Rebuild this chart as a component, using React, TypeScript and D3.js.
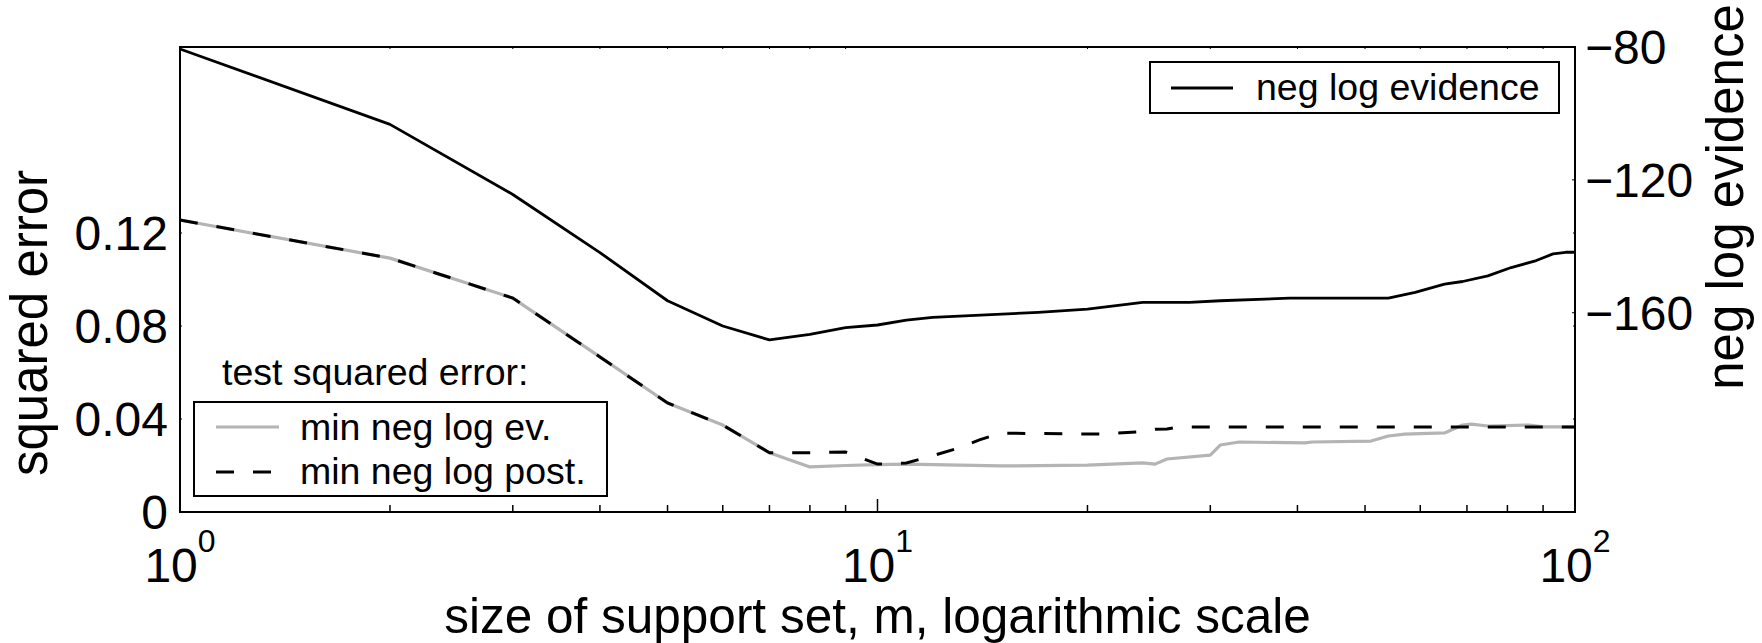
import * as d3 from 'd3';

// support set sizes (m) and the values
const evidenceM = [1, 2, 3, 4, 5, 6, 7, 8, 9, 10, 11, 12, 17, 20, 24, 28, 31, 39, 54, 59, 65, 69, 75, 81, 88, 93, 97, 100];
const negLogEvidence = [-80.6, -103.3, -124.4, -141.9, -156.4, -164.0, -168.2, -166.5, -164.5, -163.7, -162.2, -161.4, -159.9, -158.9, -156.9, -156.9, -156.4, -155.6, -155.6, -153.9, -151.4, -150.6, -148.9, -146.4, -144.3, -142.3, -141.8, -141.8];

const minEvM = [1, 2, 3, 4, 5, 6, 7, 8, 9, 10, 11, 15, 20, 24, 25, 26, 30, 31, 33, 41, 42, 51, 54, 57, 65, 69, 71, 75, 86, 90, 100];
const minEvError = [0.1256, 0.1092, 0.092, 0.0667, 0.0469, 0.0374, 0.0255, 0.0194, 0.02, 0.0204, 0.0206, 0.0198, 0.0202, 0.0211, 0.0206, 0.0228, 0.0245, 0.0288, 0.0301, 0.0297, 0.0301, 0.0305, 0.0327, 0.0335, 0.034, 0.0374, 0.0378, 0.037, 0.0374, 0.0366, 0.0366];

const minPostM = [1, 2, 3, 4, 5, 6, 7, 8, 9, 10, 11, 12, 13, 14, 15, 19, 21, 24, 25, 26, 27, 100];
const minPostError = [0.1256, 0.1092, 0.092, 0.0667, 0.0469, 0.0374, 0.0255, 0.0255, 0.0258, 0.0206, 0.0211, 0.0242, 0.0273, 0.031, 0.0339, 0.0336, 0.0336, 0.0345, 0.0356, 0.0357, 0.0366, 0.0366];

const xMajor = [1, 10, 100];
const xExponents = ['0', '1', '2'];
const xMinor = [2, 3, 4, 5, 6, 7, 8, 9, 20, 30, 40, 50, 60, 70, 80, 90];
const leftTicks = [0, 0.04, 0.08, 0.12];
const leftLabels = ['0', '0.04', '0.08', '0.12'];
const rightTicks = [-80, -120, -160];
const rightLabels = ['\u221280', '\u2212120', '\u2212160'];

const W = 1762;
const H = 643;
const plot = { left: 180, right: 1575, top: 47, bottom: 512 };
const FONT = "'Liberation Sans', Arial, Helvetica, sans-serif";
const GRAY = '#b4b4b4';

export default function App() {
  const x = d3.scaleLog().domain([1, 100]).range([plot.left, plot.right]);
  const yLeft = d3.scaleLinear().domain([0, 0.2]).range([plot.bottom, plot.top]);
  const yRight = d3.scaleLinear().domain([-220, -80]).range([plot.bottom, plot.top]);

  const leftLine = d3
    .line<[number, number]>()
    .x((d) => x(d[0]))
    .y((d) => yLeft(d[1]));
  const rightLine = d3
    .line<[number, number]>()
    .x((d) => x(d[0]))
    .y((d) => yRight(d[1]));

  const evPath = leftLine(minEvM.map((m, i) => [m, minEvError[i]]));
  const postPath = leftLine(minPostM.map((m, i) => [m, minPostError[i]]));
  const evidencePath = rightLine(evidenceM.map((m, i) => [m, negLogEvidence[i]]));

  const plotMidX = (plot.left + plot.right) / 2;

  return (
    <svg
      width={W}
      height={H}
      style={{ position: 'absolute', left: 0, top: 0, background: '#fff' }}
      fontFamily={FONT}
    >
      <rect x={0} y={0} width={W} height={H} fill="#fff" />

      {/* data lines */}
      <path d={evPath} fill="none" stroke={GRAY} strokeWidth={3.2} strokeLinejoin="round" />
      <path d={postPath} fill="none" stroke="#000" strokeWidth={3} strokeDasharray="18,19" />
      <path d={evidencePath} fill="none" stroke="#000" strokeWidth={2.8} strokeLinejoin="round" />

      {/* x ticks (bottom longer, top short) */}
      {xMinor.map((t) => (
        <g key={'mn' + t}>
          <line x1={x(t)} x2={x(t)} y1={plot.bottom} y2={plot.bottom - 7} stroke="#000" strokeWidth={1.5} />
          <line x1={x(t)} x2={x(t)} y1={plot.top} y2={plot.top + 2} stroke="#000" strokeWidth={1} />
        </g>
      ))}
      {xMajor.map((t) => (
        <line key={'mj' + t} x1={x(t)} x2={x(t)} y1={plot.bottom} y2={plot.bottom - 13} stroke="#000" strokeWidth={1.5} />
      ))}

      {/* y ticks */}
      {leftTicks.map((t) => (
        <g key={'lt' + t}>
          <line x1={plot.left} x2={plot.left + 2} y1={yLeft(t)} y2={yLeft(t)} stroke="#000" strokeWidth={1} />
          <line x1={plot.right} x2={plot.right - 2} y1={yLeft(t)} y2={yLeft(t)} stroke="#000" strokeWidth={1} />
        </g>
      ))}
      {rightTicks.map((t) => (
        <line key={'rt' + t} x1={plot.right} x2={plot.right - 3} y1={yRight(t)} y2={yRight(t)} stroke="#000" strokeWidth={1} />
      ))}

      {/* plot box */}
      <rect
        x={plot.left}
        y={plot.top}
        width={plot.right - plot.left}
        height={plot.bottom - plot.top}
        fill="none"
        stroke="#000"
        strokeWidth={2}
      />

      {/* left tick labels */}
      {leftTicks.map((t, i) => (
        <text key={'ll' + t} x={plot.left - 12} y={yLeft(t)} dy="0.36em" textAnchor="end" fontSize={48}>
          {leftLabels[i]}
        </text>
      ))}
      {/* right tick labels */}
      {rightTicks.map((t, i) => (
        <text key={'rl' + t} x={plot.right + 10} y={yRight(t)} dy="0.36em" textAnchor="start" fontSize={48}>
          {rightLabels[i]}
        </text>
      ))}
      {/* x tick labels */}
      {xMajor.map((t, i) => (
        <text key={'xl' + t} x={x(t)} y={582} textAnchor="middle" fontSize={48}>
          10
          <tspan fontSize={32} dy={-30}>
            {xExponents[i]}
          </tspan>
        </text>
      ))}

      {/* axis titles */}
      <text x={plotMidX} y={633} textAnchor="middle" fontSize={49.5}>
        size of support set, m, logarithmic scale
      </text>
      <text transform="translate(47,323) rotate(-90)" textAnchor="middle" fontSize={51}>
        squared error
      </text>
      <text transform="translate(1743,197) rotate(-90)" textAnchor="middle" fontSize={51}>
        neg log evidence
      </text>

      {/* legend: neg log evidence */}
      <rect x={1150} y={62} width={409} height={51} fill="#fff" stroke="#000" strokeWidth={2} />
      <line x1={1171} x2={1233} y1={88} y2={88} stroke="#000" strokeWidth={2.8} />
      <text x={1256} y={100} fontSize={37.5}>
        neg log evidence
      </text>

      {/* legend: test squared error */}
      <text x={222} y={385} fontSize={37.5}>
        test squared error:
      </text>
      <rect x={194} y={402} width={413} height={94} fill="#fff" stroke="#000" strokeWidth={2} />
      <line x1={216} x2={279} y1={427} y2={427} stroke={GRAY} strokeWidth={3.2} />
      <text x={300} y={440} fontSize={37.5}>
        min neg log ev.
      </text>
      <line x1={216} x2={279} y1={472} y2={472} stroke="#000" strokeWidth={3} strokeDasharray="18,19" />
      <text x={300} y={484} fontSize={37.5}>
        min neg log post.
      </text>
    </svg>
  );
}
